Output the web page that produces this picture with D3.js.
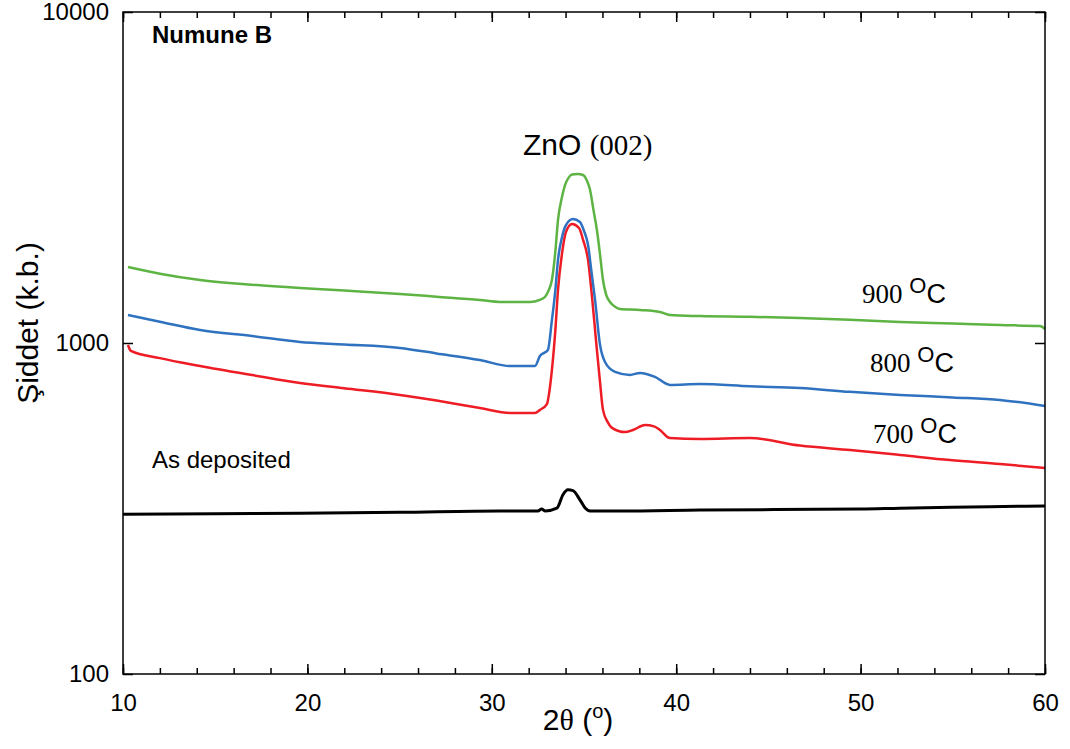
<!DOCTYPE html>
<html>
<head>
<meta charset="utf-8">
<script src="https://cdn.jsdelivr.net/npm/d3@7"></script>
<style>
  body { margin: 0; background: #fff; }
  svg { display: block; }
  .axis path { display: none; }
  .axis line { stroke: #000; stroke-width: 1.5; }
  .axis text { font-family: Arial, "Liberation Sans", sans-serif; font-size: 24px; fill: #000; }
</style>
</head>
<body>
<svg id="chart" width="1070" height="749"></svg>
<script>
// 2-theta (deg) vs intensity (a.u.)
var as900 = [[10.27,1697],[12,1620],[14.18,1550],[17,1500],[19.6,1466],[22,1440],[25.02,1406],[27,1380],[29.36,1349],[30.44,1330],[32.07,1330],[32.6,1350],[32.88,1377],[33.1,1450],[33.26,1550],[33.45,1900],[33.59,2353],[33.8,2750],[33.97,3001],[34.15,3150],[34.35,3230],[34.65,3240],[34.95,3218],[35.15,3100],[35.33,2899],[35.5,2550],[35.7,2194],[35.87,1850],[36.03,1550],[36.2,1400],[36.41,1330],[36.7,1285],[36.95,1267],[38.04,1258],[39.12,1241],[39.66,1215],[41.29,1206],[44,1200],[46.71,1190],[49.4,1175],[52.14,1157],[55,1145],[57.56,1133],[59.73,1125],[60,1102]];
var as800 = [[10.27,1215],[12,1160],[14.18,1095],[17,1050],[19.6,1007],[22,990],[25.02,966],[27,930],[29.36,888],[30.99,852],[32.34,852],[32.61,914],[33.04,952],[33.26,1173],[33.45,1450],[33.59,1782],[33.8,2080],[34.02,2272],[34.4,2369],[34.78,2320],[35,2180],[35.22,1978],[35.4,1650],[35.6,1349],[35.87,986],[36.14,876],[36.68,818],[37.49,801],[38.04,812],[38.85,790],[39.66,747],[41.29,752],[44,740],[46.71,731],[49.4,712],[52.14,697],[55,685],[57.56,673],[60,645]];
var as700 = [[10.27,986],[10.43,946],[12,900],[14.18,852],[17,800],[19.6,757],[22,730],[25.02,697],[27,670],[29.36,636],[30.99,615],[32.34,615],[32.61,628],[32.99,654],[33.1,700],[33.26,829],[33.45,1100],[33.59,1446],[33.8,1850],[34.02,2164],[34.35,2288],[34.73,2225],[34.95,2050],[35.22,1782],[35.45,1350],[35.65,1021],[35.87,760],[36.03,628],[36.3,575],[36.52,554],[37.22,538],[37.66,546],[38.31,565],[38.8,560],[39.12,546],[39.66,516],[41.29,513],[44,516],[46.71,490],[49.43,475],[52.14,459],[54.85,443],[57.56,431],[60,419]];
var asDep = [[10,304],[15,305],[19.6,306],[25,308],[30.44,311],[32.5,311],[32.7,315],[32.9,311],[33.53,317],[33.86,348],[34.13,360],[34.4,358],[34.78,336],[35.05,318],[35.33,311],[37,311],[41.29,313],[50,315],[52.14,317],[57,320],[60,322]];

var xTicks = [10, 20, 30, 40, 50, 60];
var yTicks = [100, 1000, 10000];

var svg = d3.select('#chart');
var plotLeft = 123, plotRight = 1045, plotTop = 12, plotBottom = 674;

var x = d3.scaleLinear().domain([10, 60]).range([plotLeft, plotRight]);
var y = d3.scaleLog().domain([100, 10000]).range([plotBottom, plotTop]);

var line = d3.line()
    .x(function(d) { return x(d[0]); })
    .y(function(d) { return y(d[1]); })
    .curve(d3.curveMonotoneX);

var series = [
  {data: asDep, color: '#000000', width: 3},
  {data: as700, color: '#ee1c24', width: 2.5},
  {data: as800, color: '#2f72c0', width: 2.5},
  {data: as900, color: '#5db443', width: 2.5}
];

series.forEach(function(s) {
  svg.append('path')
      .attr('d', line(s.data))
      .attr('fill', 'none')
      .attr('stroke', s.color)
      .attr('stroke-width', s.width)
      .attr('stroke-linejoin', 'round');
});

// minor ticks every 2 deg
var minor = d3.range(10, 61, 2);
svg.append('g').attr('class', 'axis')
    .attr('transform', 'translate(0,' + plotBottom + ')')
    .call(d3.axisBottom(x).tickValues(minor).tickSize(-6).tickFormat(''));
svg.append('g').attr('class', 'axis')
    .attr('transform', 'translate(0,' + plotTop + ')')
    .call(d3.axisTop(x).tickValues(minor).tickSize(-6).tickFormat(''));

svg.append('g').attr('class', 'axis')
    .attr('transform', 'translate(0,' + plotBottom + ')')
    .call(d3.axisBottom(x).tickValues(xTicks).tickSize(-10).tickPadding(20).tickFormat(d3.format('d')));
svg.append('g').attr('class', 'axis')
    .attr('transform', 'translate(0,' + plotTop + ')')
    .call(d3.axisTop(x).tickValues(xTicks).tickSize(-10).tickFormat(''));

svg.append('g').attr('class', 'axis')
    .attr('transform', 'translate(' + plotLeft + ',0)')
    .call(d3.axisLeft(y).tickValues(yTicks).tickSize(-10).tickPadding(14).tickFormat(d3.format('d')));
svg.append('g').attr('class', 'axis')
    .attr('transform', 'translate(' + plotRight + ',0)')
    .call(d3.axisRight(y).tickValues(yTicks).tickSize(-10).tickFormat(''));

svg.append('rect')
    .attr('x', plotLeft).attr('y', plotTop)
    .attr('width', plotRight - plotLeft).attr('height', plotBottom - plotTop)
    .attr('fill', 'none').attr('stroke', '#000').attr('stroke-width', 1.5);

var sans = 'Arial, "Liberation Sans", sans-serif';
var serif = '"Times New Roman", "Liberation Serif", serif';

svg.append('text')
    .attr('x', 152).attr('y', 43)
    .attr('font-family', sans).attr('font-size', 24).attr('font-weight', 'bold')
    .text('Numune B');

svg.append('text')
    .attr('x', 152).attr('y', 468)
    .attr('font-family', sans).attr('font-size', 24)
    .text('As deposited');

var peak = svg.append('text')
    .attr('x', 523).attr('y', 155)
    .attr('font-family', sans).attr('font-size', 30);
peak.append('tspan').text('ZnO ');
peak.append('tspan').attr('font-family', serif).attr('font-size', 29).text('(002)');

function tempLabel(t, px, py) {
  var g = svg.append('text')
      .attr('x', px).attr('y', py)
      .attr('font-family', serif).attr('font-size', 27);
  g.append('tspan').text(t + ' ');
  g.append('tspan').attr('font-family', sans).attr('font-size', 22).attr('dy', -10).text('O');
  g.append('tspan').attr('font-family', sans).attr('font-size', 27).attr('dy', 10).text('C');
}
tempLabel('900', 862, 303);
tempLabel('800', 870, 372);
tempLabel('700', 873, 443);

var xl = svg.append('text')
    .attr('x', 578).attr('y', 730)
    .attr('text-anchor', 'middle')
    .attr('font-family', sans).attr('font-size', 30);
xl.append('tspan').text('2');
xl.append('tspan').attr('font-family', serif).text('\u03b8');
xl.append('tspan').text(' (');
xl.append('tspan').attr('font-size', 20).attr('dy', -12).text('o');
xl.append('tspan').attr('dy', 12).text(')');

svg.append('text')
    .attr('transform', 'translate(38,323) rotate(-90)')
    .attr('text-anchor', 'middle')
    .attr('font-family', sans).attr('font-size', 30)
    .text('\u015eiddet (k.b.)');
</script>
</body>
</html>
